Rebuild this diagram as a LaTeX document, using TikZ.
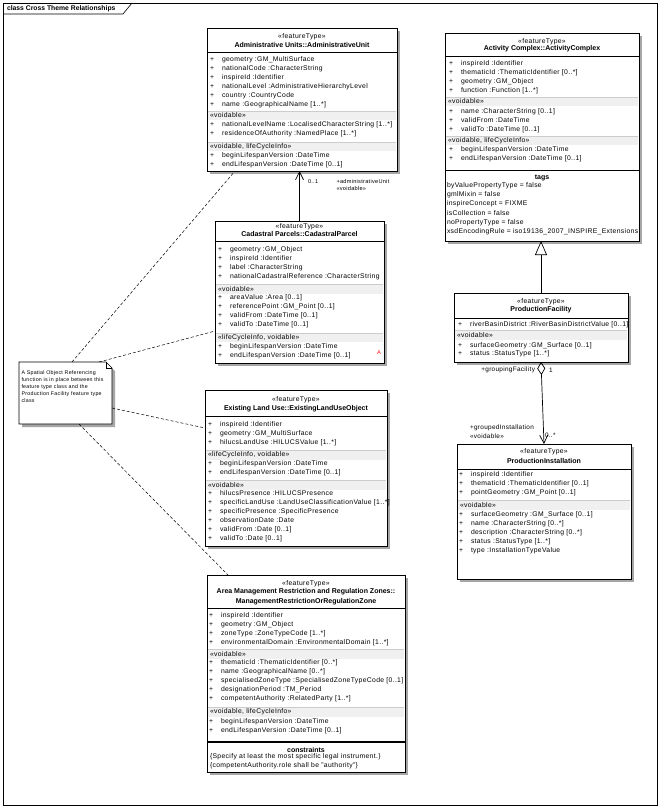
\documentclass[tikz,border=0pt]{standalone}
\usepackage{fontspec}
\setmainfont{Liberation Sans}[LetterSpace=5]
\newfontfamily\hdfont{Liberation Sans}
\usetikzlibrary{arrows.meta,fit,calc}
\newcommand{\umlbox}[5]{%
  \fill[shadowfill] ({#2+3},{#3+3}) rectangle ({#4+3},{#5+3});
  \node[umlrect, fit={(#2,#3)(#4,#5)}] (#1) {};}
\newcommand{\secband}[5]{%
  \fill[bandfill] ({#1+0.6},{#3-4.5}) rectangle ({#2-0.6},{#3+4.5});
  \draw[bandline] ({#1+0.6},{#3-4.5}) -- ({#2-0.6},{#3-4.5});
  \node[lbl] (#5) at ({#1+3},#3) {#4};}
\newcommand{\attrrows}[5]{%
  \foreach \t [count=\i] in {#5} {
    \node[plus] (#1p\i) at (#2,{#3+#4*(\i-1)}) {+};
    \node[attr] (#1a\i) at ({#2+10},{#3+#4*(\i-1)}) {\t};
  }}
\begin{document}
\begin{tikzpicture}[x=1pt,y=-1pt,
  every node/.style={inner sep=0pt, outer sep=0pt, font=\fontsize{6.8}{8}\selectfont},
  umlrect/.style={draw=black, line width=0.8pt, fill=white},
  shadowfill/.style={fill=black!35},
  bandfill/.style={fill=black!6},
  bandline/.style={draw=black!20, line width=0.4pt},
  attr/.style={anchor=west},
  plus/.style={anchor=center},
  lbl/.style={anchor=west},
  stereo/.style={anchor=center},
  cname/.style={anchor=center, font=\hdfont\fontsize{7}{8}\selectfont\bfseries},
  sepline/.style={line width=0.7pt},
  thicksep/.style={line width=1.4pt},
  assoc/.style={line width=0.7pt},
  notelink/.style={line width=0.5pt, dash pattern=on 3pt off 2pt},
  small/.style={font=\fontsize{5.6}{6.5}\selectfont},
  smallb/.style={font=\fontsize{6.4}{7}\selectfont}
]
\useasboundingbox (0,0) rectangle (661,808);
\fill[white] (0,0) rectangle (661,808);
% frame
\draw[line width=0.6pt] (3,3) rectangle (657,805);
\draw[line width=0.6pt] (3,14) -- (123,14) -- (132,3);
\node[anchor=west, font=\hdfont\fontsize{6.8}{8}\selectfont\bfseries] (title) at (7,9) {class Cross Theme Relationships};

% ---------- Administrative Unit
\umlbox{au}{207}{28}{397}{171}
\node[stereo] (aus) at (302,37) {«featureType»};
\node[cname] (aun) at (302,45) {Administrative Units::AdministrativeUnit};
\draw[sepline] (207,52) -- (397,52);
\secband{207}{397}{115.5}{«voidable»}{aub1}
\secband{207}{397}{146.5}{«voidable, lifeCycleInfo»}{aub2}
\attrrows{auA}{212}{60}{9}{geometry :GM\_MultiSurface, nationalCode :CharacterString, inspireId :Identifier, nationalLevel :AdministrativeHierarchyLevel, country :CountryCode, name :GeographicalName [1..*]}
\attrrows{auB}{212}{125}{9}{nationalLevelName :LocalisedCharacterString [1..*], residenceOfAuthority :NamedPlace [1..*]}
\attrrows{auC}{212}{156}{8.5}{beginLifespanVersion :DateTime, endLifespanVersion :DateTime [0..1]}

% ---------- Activity Complex
\umlbox{ac}{445}{33}{639}{241}
\node[stereo] (acs) at (542,41.5) {«featureType»};
\node[cname] (acn) at (542,48.5) {Activity Complex::ActivityComplex};
\draw[sepline] (445,56) -- (639,56);
\secband{445}{639}{101.5}{«voidable»}{acb1}
\secband{445}{639}{140.5}{«voidable, lifeCycleInfo»}{acb2}
\attrrows{acA}{451}{63.5}{9}{inspireId :Identifier, thematicId :ThematicIdentifier [0..*], geometry :GM\_Object, function :Function [1..*]}
\attrrows{acB}{451}{111.5}{9}{name :CharacterString [0..1], validFrom :DateTime, validTo :DateTime [0..1]}
\attrrows{acC}{451}{150}{9}{beginLifespanVersion :DateTime, endLifespanVersion :DateTime [0..1]}
\draw[thicksep] (445,170.5) -- (639,170.5);
\node[cname] (act) at (542,177.5) {tags};
\foreach \t [count=\i] in {byValuePropertyType = false, gmlMixin = false, inspireConcept = FIXME, isCollection = false, noPropertyType = false, xsdEncodingRule = iso19136\_2007\_INSPIRE\_Extensions}
  \node[attr] (actag\i) at (447,{186+9.1*(\i-1)}) {\t};

% ---------- Cadastral Parcel
\umlbox{cp}{215}{221}{384}{363}
\node[stereo] (cps) at (299.5,226.5) {«featureType»};
\node[cname] (cpn) at (299.5,234) {Cadastral Parcels::CadastralParcel};
\draw[sepline] (215,241.5) -- (384,241.5);
\secband{215}{384}{289}{«voidable»}{cpb1}
\secband{215}{384}{337.5}{«lifeCycleInfo, voidable»}{cpb2}
\attrrows{cpA}{220}{250}{9}{geometry :GM\_Object, inspireId :Identifier, label :CharacterString, nationalCadastralReference :CharacterString}
\attrrows{cpB}{220}{298}{9}{areaValue :Area [0..1], referencePoint :GM\_Point [0..1], validFrom :DateTime [0..1], validTo :DateTime [0..1]}
\attrrows{cpC}{220}{346.5}{9}{beginLifespanVersion :DateTime, endLifespanVersion :DateTime [0..1]}
\node[text=red, small] (cpA) at (379,353) {A};

% ---------- Production Facility
\umlbox{pf}{454}{293}{628}{362}
\node[stereo] (pfs) at (541,301.5) {«featureType»};
\node[cname] (pfn) at (541,309.5) {ProductionFacility};
\draw[sepline] (454,318) -- (628,318);
\secband{454}{628}{335}{«voidable»}{pfb1}
\attrrows{pfA}{460}{324.5}{9}{riverBasinDistrict :RiverBasinDistrictValue [0..1]}
\attrrows{pfB}{460}{345.5}{8}{surfaceGeometry :GM\_Surface [0..1], status :StatusType [1..*]}

% ---------- Production Installation
\umlbox{pi}{457}{444}{631}{579}
\node[stereo] (pis) at (544,452) {«featureType»};
\node[cname] (pin) at (544,461) {ProductionInstallation};
\draw[sepline] (457,469) -- (631,469);
\secband{457}{631}{505}{«voidable»}{pib1}
\attrrows{piA}{461}{475}{9}{inspireId :Identifier, thematicId :ThematicIdentifier [0..1], pointGeometry :GM\_Point [0..1]}
\attrrows{piB}{461}{514.5}{9}{surfaceGeometry :GM\_Surface [0..1], name :CharacterString [0..*], description :CharacterString [0..*], status :StatusType [1..*], type :InstallationTypeValue}

% ---------- Existing Land Use
\umlbox{elu}{205}{390}{387}{546}
\node[stereo] (elus) at (296,400) {«featureType»};
\node[cname] (elun) at (296,409) {Existing Land Use::ExistingLandUseObject};
\draw[sepline] (205,416.5) -- (387,416.5);
\secband{205}{387}{455}{«lifeCycleInfo, voidable»}{elub1}
\secband{205}{387}{485}{«voidable»}{elub2}
\attrrows{eluA}{210}{424.5}{9}{inspireId :Identifier, geometry :GM\_MultiSurface, hilucsLandUse :HILUCSValue [1..*]}
\attrrows{eluB}{210}{464}{9}{beginLifespanVersion :DateTime, endLifespanVersion :DateTime [0..1]}
\attrrows{eluC}{210}{493.5}{9}{hilucsPresence :HILUCSPresence, specificLandUse :LandUseClassificationValue [1..*], specificPresence :SpecificPresence, observationDate :Date, validFrom :Date [0..1], validTo :Date [0..1]}

% ---------- Area Management
\umlbox{am}{207}{575}{405}{772}
\node[stereo] (ams) at (306,583.5) {«featureType»};
\node[cname] (amn1) at (306,592) {Area Management Restriction and Regulation Zones::};
\node[cname] (amn2) at (306,601.5) {ManagementRestrictionOrRegulationZone};
\draw[sepline] (207,608) -- (405,608);
\secband{207}{405}{654}{«voidable»}{amb1}
\secband{207}{405}{712}{«voidable, lifeCycleInfo»}{amb2}
\attrrows{amA}{211}{615.5}{9}{inspireId :Identifier, geometry :GM\_Object, zoneType :ZoneTypeCode [1..*], environmentalDomain :EnvironmentalDomain [1..*]}
\attrrows{amB}{211}{663}{9}{thematicId :ThematicIdentifier [0..*], name :GeographicalName [0..*], specialisedZoneType :SpecialisedZoneTypeCode [0..1], designationPeriod :TM\_Period, competentAuthority :RelatedParty [1..*]}
\attrrows{amC}{211}{721.5}{9}{beginLifespanVersion :DateTime, endLifespanVersion :DateTime [0..1]}
\draw[thicksep] (207,742) -- (405,742);
\node[cname] (amc) at (306,750) {constraints};
\node[attr] (amc1) at (210,757) {\{Specify at least the most specific legal instrument.\}};
\node[attr] (amc2) at (210,765.5) {\{competentAuthority.role shall be "authority"\}};

% ---------- Note
\fill[shadowfill] (22,365) -- (109,365) -- (115,371) -- (115,427) -- (22,427) -- cycle;
\node[fit={(19,362)(112,424)}] (note) {};
\draw[line width=0.6pt, fill=white] (19,362) -- (106,362) -- (112,368) -- (112,424) -- (19,424) -- cycle;
\draw[line width=0.5pt] (106,362) -- (106,368) -- (112,368);
\node[anchor=north west, align=left, font=\fontsize{5.3}{6.8}\selectfont] (notetext) at (21.5,371)
 {A Spatial Object Referencing\\function is in place between this\\feature type class and the\\Production Facility feature type\\class};

% ---------- Connectors
\draw[assoc, -{Straight Barb[length=8pt,width=8pt]}] (cp.north) -- (cp.north |- au.south);
\node[anchor=west, small] (l01) at (308,181.5) {0..1};
\node[anchor=west, small] (ladm) at (336.5,181.5) {+administrativeUnit};
\node[anchor=west, small] (lvo1) at (336.5,188.5) {«voidable»};

\draw[assoc, -{Triangle[open, length=14pt, width=12pt]}] (pf.north) -- (pf.north |- ac.south);

\draw[assoc, {Diamond[open, length=13pt, width=8pt]}-{Straight Barb[length=8pt,width=8pt]}] (pf.south) -- (pi.north);
\node[anchor=east, smallb] (lgf) at (535,370) {+groupingFacility};
\node[anchor=west, smallb] (l1) at (549,370) {1};
\node[anchor=west, smallb] (lgi) at (470,427.5) {+groupedInstallation};
\node[anchor=west, smallb] (lvo2) at (470,436) {«voidable»};
\node[anchor=west, smallb] (l0s) at (545,435) {0..*};

\draw[notelink] ($(note.north west)+(53,0)$) -- ($(au.south west)+(28,0)$);
\draw[notelink] ($(note.north west)+(80,0)$) -- ($(cp.south west)+(0,-32)$);
\draw[notelink] ($(note.south east)+(0,-16)$) -- ($(elu.north west)+(0,38)$);
\draw[notelink] ($(note.south west)+(60,0)$) -- ($(am.north west)+(21,0)$);
\end{tikzpicture}
\end{document}
